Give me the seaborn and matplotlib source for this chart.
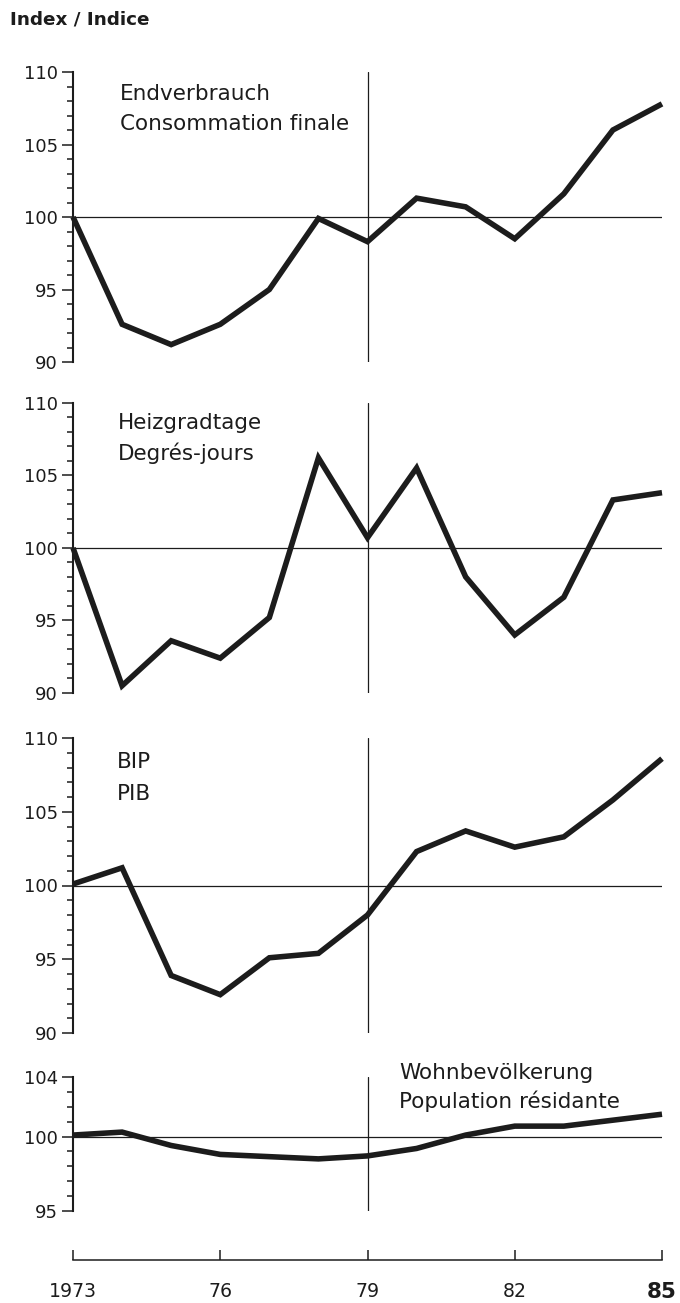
import numpy as np
import pandas as pd
import seaborn as sns
import matplotlib.pyplot as plt
from matplotlib.ticker import MultipleLocator, FixedLocator

# Index values, 1973 = 100
years = list(range(1973, 1986))
endverbrauch = [100.0, 92.6, 91.2, 92.6, 95.0, 99.9, 98.3, 101.3, 100.7, 98.5, 101.6, 106.0, 107.8]
heizgradtage = [100.0, 90.5, 93.6, 92.4, 95.2, 106.2, 100.7, 105.5, 98.0, 94.0, 96.6, 103.3, 103.8]
bip = [100.1, 101.2, 93.9, 92.6, 95.1, 95.4, 98.0, 102.3, 103.7, 102.6, 103.3, 105.8, 108.6]
bevoelkerung = [100.1, 100.3, 99.4, 98.8, 98.65, 98.5, 98.7, 99.2, 100.1, 100.7, 100.7, 101.1, 101.5]

labels_de = ["Endverbrauch", "Heizgradtage", "BIP", "Wohnbevölkerung"]
labels_fr = ["Consommation finale", "Degrés-jours", "PIB", "Population résidante"]
year_ticks = [1973, 1976, 1979, 1982, 1985]
year_labels = ["1973", "76", "79", "82", "85"]

sns.set_style("ticks")
plt.rcParams["font.family"] = ["DejaVu Sans"]

ink = "#1c1c1c"
W, H = 680, 1303
fig = plt.figure(figsize=(W / 100, H / 100), dpi=100)


def add_px_axes(top, bottom):
    return fig.add_axes([73 / W, 1 - bottom / H, 589 / W, (bottom - top) / H])


# panel layout: pixel top/bottom, y-limits, major ticks, label anchor (year, value)
panels = [
    (endverbrauch, 72, 362, (90, 110), [90, 95, 100, 105, 110], (1973.95, 108.1, 106.0)),
    (heizgradtage, 402.7, 693, (90, 110), [90, 95, 100, 105, 110], (1973.92, 108.2, 106.05)),
    (bip, 738, 1033, (90, 110), [90, 95, 100, 105, 110], (1973.9, 107.96, 105.82)),
    (bevoelkerung, 1077, 1211, (95, 104), [95, 100, 104], (1979.64, 103.85, 101.95)),
]

for i, (vals, top, bottom, ylim, majors, lab) in enumerate(panels):
    ax = add_px_axes(top, bottom)
    ax.axhline(100, color=ink, lw=0.9, zorder=1)
    ax.axvline(1979, color=ink, lw=0.9, zorder=1)
    df = pd.DataFrame({"Jahr": years, "Index": vals})
    sns.lineplot(data=df, x="Jahr", y="Index", ax=ax, color=ink, lw=4.0,
                 solid_joinstyle="miter", solid_capstyle="butt", clip_on=False, zorder=3)
    ax.set_xlim(1973, 1985)
    ax.set_ylim(*ylim)
    ax.set_xlabel("")
    ax.set_ylabel("")
    sns.despine(ax=ax, bottom=True)
    ax.tick_params(axis="x", bottom=False, labelbottom=False)
    ax.yaxis.set_major_locator(FixedLocator(majors))
    ax.yaxis.set_minor_locator(MultipleLocator(1))
    ax.tick_params(axis="y", which="major", length=8, width=1.1, labelsize=13,
                   pad=3, colors=ink)
    ax.tick_params(axis="y", which="minor", length=4.5, width=1.1, colors=ink)
    ax.spines["left"].set_linewidth(1.5)
    ax.spines["left"].set_color(ink)
    ax.patch.set_alpha(0)

    x0, y1, y2 = lab
    ax.text(x0, y1, labels_de[i], fontsize=15.5, color=ink, va="baseline")
    ax.text(x0, y2, labels_fr[i], fontsize=15.5, color=ink, va="baseline")

# shared year axis at the bottom
axx = fig.add_axes([73 / W, 1 - 1260 / H, 589 / W, 0.002])
axx.set_xlim(1973, 1985)
axx.set_yticks([])
sns.despine(ax=axx, left=True)
axx.set_xticks(year_ticks)
axx.set_xticklabels(year_labels)
axx.tick_params(axis="x", direction="in", length=7, width=1.1, pad=16,
                labelsize=13.6, colors=ink)
axx.spines["bottom"].set_linewidth(1.1)
axx.spines["bottom"].set_color(ink)
last = axx.get_xticklabels()[-1]
last.set_fontweight("bold")
last.set_fontsize(15.5)
axx.patch.set_alpha(0)

fig.text(10 / W, 1 - 20 / H, "Index / Indice", fontsize=13.2, fontweight="bold",
         color=ink, va="center", ha="left")

fig.savefig("out.png", dpi=100, facecolor="white")
